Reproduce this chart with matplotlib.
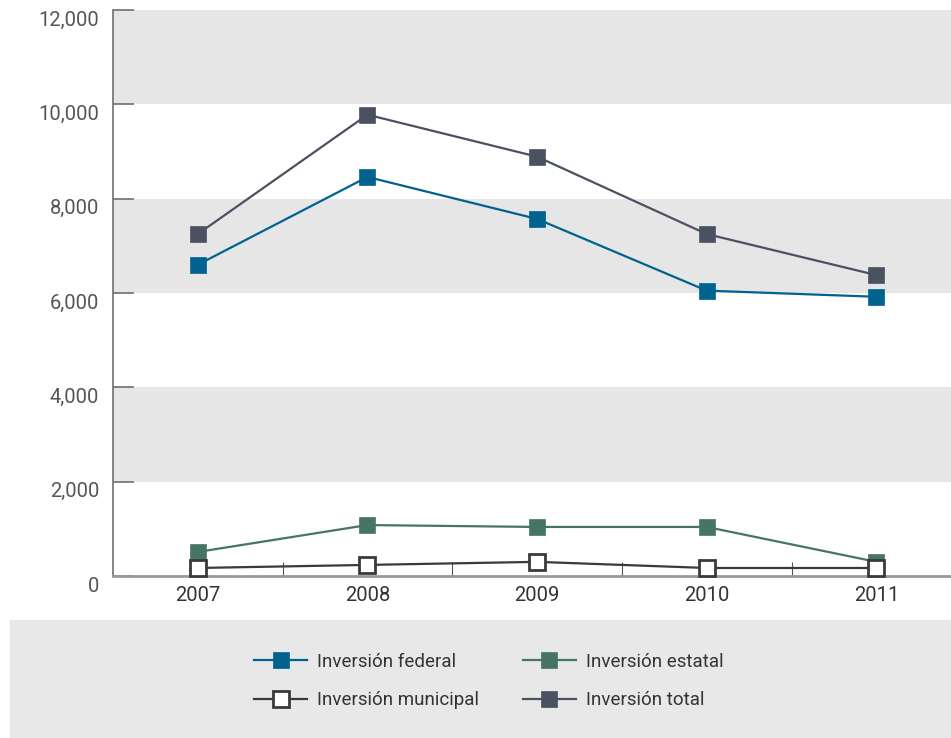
import numpy as np
import matplotlib
matplotlib.use('Agg')
import matplotlib.pyplot as plt
from matplotlib.lines import Line2D
from matplotlib.patches import Rectangle
from matplotlib.legend_handler import HandlerLine2D
from matplotlib.ticker import FuncFormatter, FixedLocator
import matplotlib.transforms as mtransforms

years = ["2007", "2008", "2009", "2010", "2011"]
federal = [6600, 8460, 7570, 6050, 5920]
estatal = [510, 1080, 1040, 1040, 300]
municipal = [170, 235, 300, 170, 170]
total = [7250, 9780, 8890, 7250, 6380]

plt.rcParams['font.family'] = ['Roboto', 'DejaVu Sans']

C_FED = "#00628f"
C_EST = "#467565"
C_MUN = "#3a3a3a"
C_TOT = "#4a5161"
TXT = "#333333"
TICK_TXT = "#555555"


class EndMarkerHandler(HandlerLine2D):
    # marker sits at the right end of the legend line, like the original
    def get_xdata(self, legend, xdescent, ydescent, width, height, fontsize):
        xdata, _ = super().get_xdata(legend, xdescent, ydescent, width, height, fontsize)
        return xdata, [xdata[-1] - 0.45 * fontsize]


fig = plt.figure(figsize=(9.51, 7.38), dpi=100)
fig.patches.append(Rectangle((10 / 951, 0), 941 / 951, 118 / 738,
                             transform=fig.transFigure, color="#e8e8e8", zorder=0))

ax = fig.add_axes([113 / 951, 162 / 738, 838 / 951, 566 / 738])
x = np.arange(len(years))

for lo, hi in [(2000, 4000), (6000, 8000), (10000, 12000)]:
    ax.axhspan(lo, hi, color="#e6e6e6", lw=0, zorder=0)

series = [
    ("Inversión federal", federal, C_FED, C_FED),
    ("Inversión estatal", estatal, C_EST, C_EST),
    ("Inversión municipal", municipal, C_MUN, "white"),
    ("Inversión total", total, C_TOT, C_TOT),
]
for name, vals, col, face in series:
    ax.plot(x, vals, color=col, lw=1.6, marker="s", markersize=11.5,
            markerfacecolor=face, markeredgecolor=col,
            markeredgewidth=2 if face == "white" else 0.5, zorder=3, label=name,
            clip_on=False)

ax.set_xlim(-0.5, 4.44)
ax.set_ylim(0, 12000)
ax.set_yticks(np.arange(0, 12001, 2000))
ax.yaxis.set_major_formatter(FuncFormatter(lambda v, p: f"{int(v):,}"))
ax.set_xticks(x)
ax.set_xticklabels(years)
ax.xaxis.set_minor_locator(FixedLocator([0.5, 1.5, 2.5, 3.5]))

ax.tick_params(axis="y", direction="in", length=15, width=1.2, color="#6f6f6f",
               pad=10, labelsize=14.5, labelcolor=TICK_TXT)
ax.tick_params(axis="x", which="major", length=0, pad=7, labelsize=14.5, labelcolor=TXT)
ax.tick_params(axis="x", which="minor", direction="in", length=10, width=0.8, color="#555555")

offset = mtransforms.ScaledTranslation(0, -8 / 100, fig.dpi_scale_trans)
for lab in ax.get_yticklabels():
    lab.set_transform(lab.get_transform() + offset)

for s in ["top", "right"]:
    ax.spines[s].set_visible(False)
ax.spines["left"].set_color("#6f6f6f")
ax.spines["left"].set_linewidth(1.2)
ax.spines["bottom"].set_color("#9a9a9a")
ax.spines["bottom"].set_linewidth(2)
ax.patch.set_facecolor("white")

# legend fills column by column, so reorder to get federal/estatal on the first row
leg_order = [0, 2, 1, 3]
leg_handles = []
leg_labels = []
for i in leg_order:
    name, vals, col, face = series[i]
    leg_handles.append(Line2D([], [], color=col, lw=1.6, marker="s", markersize=12,
                              markerfacecolor=face, markeredgecolor=col,
                              markeredgewidth=2 if face == "white" else 0.5))
    leg_labels.append(name)
fig.legend(leg_handles, leg_labels, ncol=2, loc="center",
           bbox_to_anchor=(489 / 951, 57 / 738), frameon=False, fontsize=13.5,
           borderpad=0, handlelength=2.8, handletextpad=0.55, columnspacing=2.35,
           labelspacing=1.1, labelcolor=TXT,
           handler_map={Line2D: EndMarkerHandler(numpoints=1)})

fig.savefig("out.png", dpi=100)
